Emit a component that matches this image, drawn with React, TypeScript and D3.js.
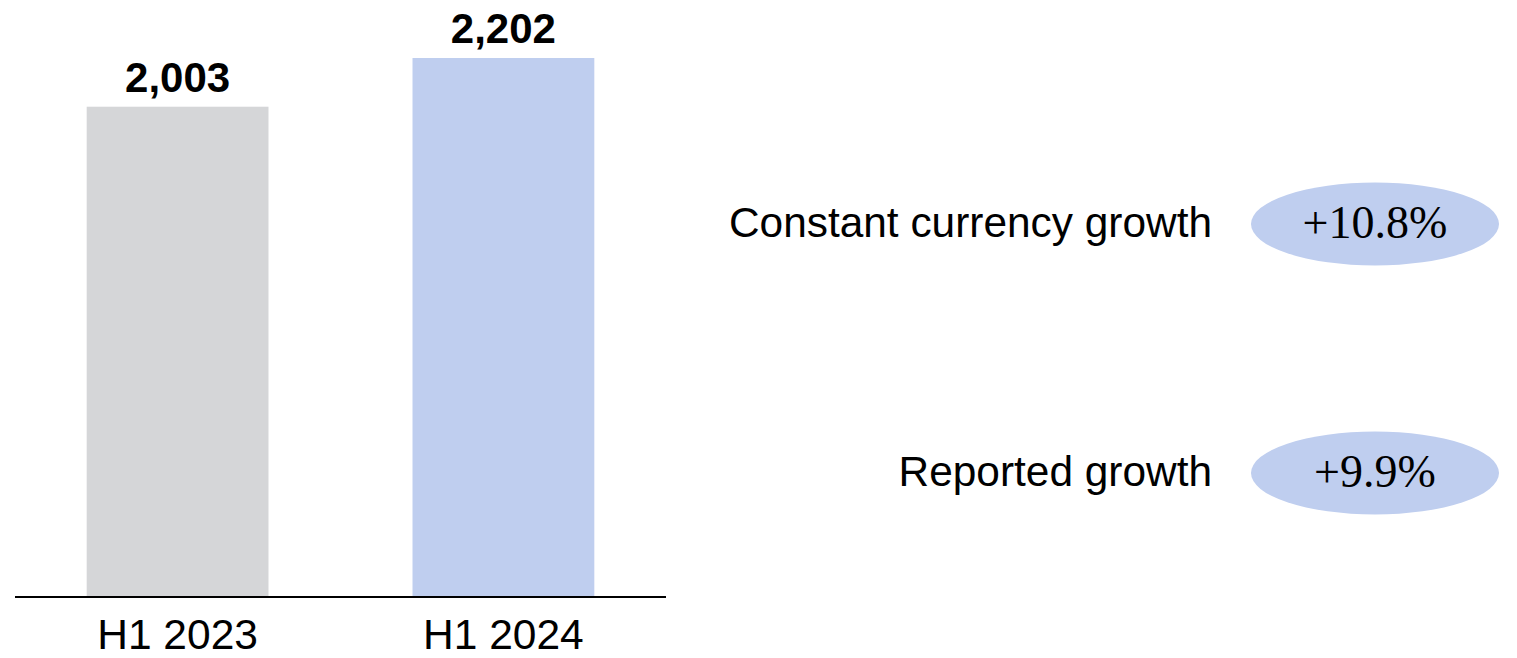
import React from "react";
import * as d3 from "d3";

const categories = ["H1 2023", "H1 2024"];
const values = [2003, 2202];
const barColors = ["#D5D6D8", "#BFCEEF"];
const growthLabels = ["Constant currency growth", "Reported growth"];
const growthValues = ["+10.8%", "+9.9%"];

export default function App() {
  const W = 1517;
  const H = 658;
  const baseY = 597;
  const x = d3
    .scaleBand<string>()
    .domain(categories)
    .range([15, 666])
    .paddingInner(0.442)
    .paddingOuter(0.22);
  const y = d3.scaleLinear().domain([0, 2400]).range([baseY, baseY - (2400 * 539) / 2202]);
  const fmt = d3.format(",");
  const growthY = d3.scalePoint<string>().domain(growthLabels).range([224, 473]);

  return (
    <svg
      width={W}
      height={H}
      style={{ position: "absolute", left: 0, top: 0, display: "block", background: "#fff" }}
    >
      {categories.map((c, i) => (
        <g key={c}>
          <rect
            x={x(c)}
            y={y(values[i])}
            width={x.bandwidth()}
            height={baseY - y(values[i])}
            fill={barColors[i]}
          />
          <text
            x={(x(c) as number) + x.bandwidth() / 2}
            y={y(values[i]) - 15}
            textAnchor="middle"
            fontFamily="Liberation Sans, Arial, sans-serif"
            fontWeight="bold"
            fontSize={42}
            fill="#000"
          >
            {fmt(values[i])}
          </text>
          <text
            x={(x(c) as number) + x.bandwidth() / 2}
            y={648.5}
            textAnchor="middle"
            fontFamily="Liberation Sans, Arial, sans-serif"
            fontSize={42.5}
            fill="#000"
          >
            {c}
          </text>
        </g>
      ))}
      <line x1={15} x2={666} y1={baseY} y2={baseY} stroke="#000" strokeWidth={2} />
      {growthLabels.map((g, i) => {
        const cy = growthY(g) as number;
        return (
          <g key={g}>
            <text
              x={1212}
              y={cy + 13}
              textAnchor="end"
              fontFamily="Liberation Sans, Arial, sans-serif"
              fontSize={42.4}
              fill="#000"
            >
              {g}
            </text>
            <ellipse cx={1375} cy={cy} rx={124} ry={41.5} fill="#BFCEEF" />
            <text
              x={1375}
              y={cy + 14}
              textAnchor="middle"
              fontFamily="Liberation Serif, DejaVu Serif, serif"
              fontSize={46}
              style={{ fontVariantNumeric: "oldstyle-nums" }}
              fill="#000"
            >
              {growthValues[i]}
            </text>
          </g>
        );
      })}
    </svg>
  );
}
